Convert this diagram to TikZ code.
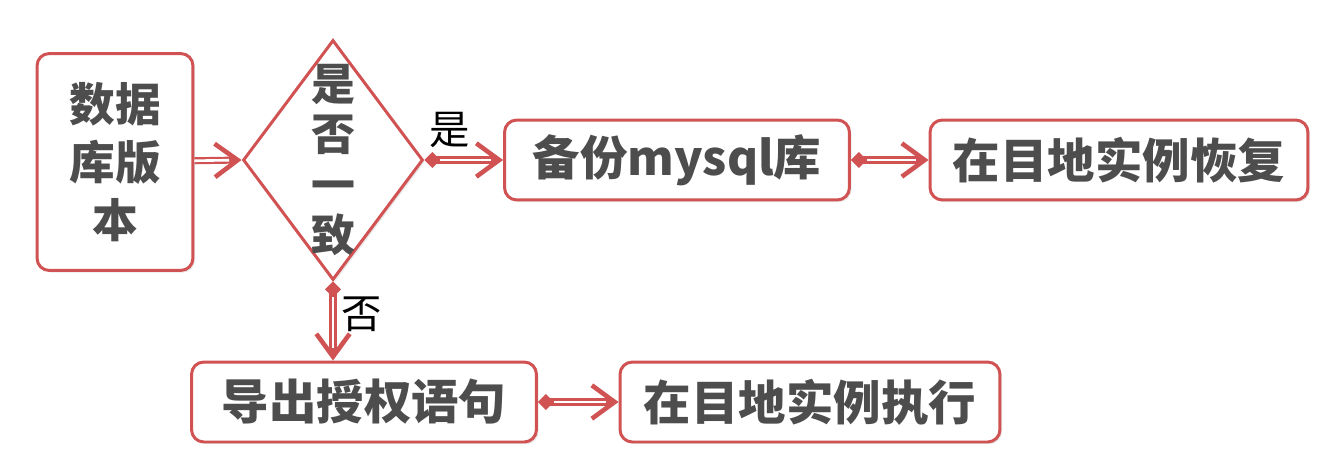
\documentclass[tikz,border=0pt]{standalone}
\usepackage{fontspec}
\newfontfamily\cjk{Noto Sans CJK SC}
\usetikzlibrary{shapes.geometric,arrows.meta,shadows}
\definecolor{boxred}{RGB}{208,82,82}
\definecolor{txtgrey}{RGB}{77,77,77}

\begin{document}
\begin{tikzpicture}[x=0.02cm,y=-0.02cm]
    \useasboundingbox (0,0) rectangle (1332,466);

    \tikzstyle{stepbox}=[draw=boxred,line width=1.7pt,fill=white,rounded corners=7pt,
    text=txtgrey,font=\cjk\bfseries\fontsize{27}{33}\selectfont,inner sep=0pt,
    drop shadow={opacity=0.18,shadow xshift=1.2pt,shadow yshift=-1.2pt}]
    \tikzstyle{decision}=[diamond,draw=boxred,line width=1.7pt,fill=white,inner sep=0pt,
    minimum width=3.6cm,minimum height=4.8cm,
    drop shadow={opacity=0.18,shadow xshift=1.2pt,shadow yshift=-1.2pt}]
    \tikzstyle{flow}=[draw=boxred,line width=4pt,
    -{Straight Barb[length=13pt,width=19pt,line width=2.6pt]},
    postaction={draw=white,line width=1.5pt,-,shorten >=7pt}]
    \tikzstyle{flowd}=[draw=boxred,line width=4pt,
    {Diamond[length=9pt,width=9pt,line width=0pt]}-{Straight Barb[length=13pt,width=19pt,line width=2.6pt]},
    postaction={draw=white,line width=1.5pt,-,shorten >=7pt,shorten <=9pt}]
    \tikzstyle{yesno}=[font=\cjk\fontsize{23}{23}\selectfont,inner sep=0pt]

    %% Boxes and the check
    \node [stepbox,minimum width=3.12cm,minimum height=4.34cm,align=center,
    font=\cjk\bfseries\fontsize{26}{33}\selectfont] (ver) at (115,162) {数据\\库版\\本};
    \node [decision] (chk) at (333,160) {};
    \node [text=txtgrey,align=center,font=\cjk\bfseries\fontsize{25}{28.5}\selectfont]
    (chktext) at (chk) {是\\否\\一\\致};
    \node [stepbox,minimum width=6.9cm,minimum height=1.6cm] (bak) at (677,160) {备份mysql库};
    \node [stepbox,minimum width=7.56cm,minimum height=1.6cm] (rec) at (1119,160) {在目地实例恢复};
    \node [stepbox,minimum width=6.9cm,minimum height=1.6cm] (grt) at (364,402) {导出授权语句};
    \node [stepbox,minimum width=7.6cm,minimum height=1.6cm] (run) at (810,402) {在目地实例执行};

    %% Yes / no labels
    \node [yesno,xshift=0.5cm,yshift=0.6cm] at (chk.east) (yes) {是};
    \node [yesno,xshift=0.58cm,yshift=-0.66cm] at (chk.south) (no) {否};

    %% Connectors
    \draw [flow] (ver) -- (chk.west);
    \draw [flowd] (chk.east) -- (bak);
    \draw [flowd] (bak) -- (rec);
    \draw [flowd] (chk.south) -- (chk.south |- grt.north);
    \draw [flowd] (grt) -- (run);
\end{tikzpicture}
\end{document}
